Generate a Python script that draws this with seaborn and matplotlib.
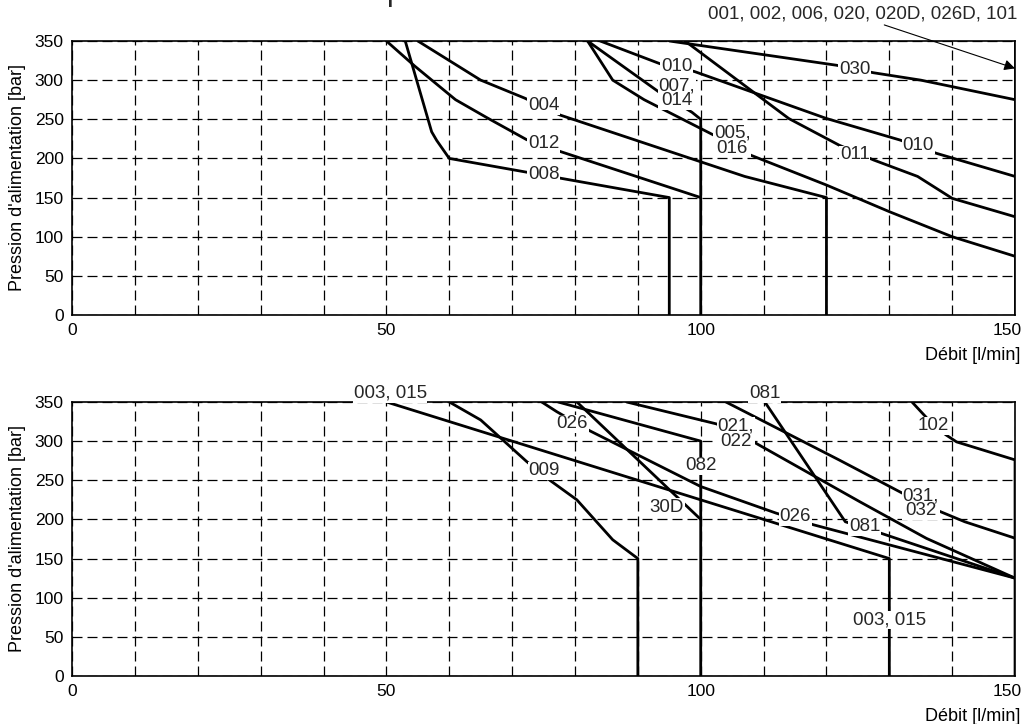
import matplotlib
matplotlib.use("Agg")
import matplotlib.pyplot as plt
import matplotlib.transforms as mtransforms
import seaborn as sns
import pandas as pd

# Débit [l/min] / pression [bar] relevés sur les courbes
# --- graphique du haut ---
q_008 = [53, 57.2, 58, 60, 95, 95]
p_008 = [350, 234, 223, 200, 150, 0]
q_012 = [50, 54.5, 61, 66, 72.3, 77.6, 100]
p_012 = [350, 318, 275, 252, 224, 209, 150]
q_004 = [55, 65, 72, 77.6, 107, 120, 120]
p_004 = [350, 300, 277, 255.5, 177, 150, 0]
q_007 = [82, 93.5, 98.6, 100, 100]
p_007 = [350, 284, 259, 250, 0]
q_005 = [82, 86, 91, 102.5, 108, 120, 130, 140, 150]
p_005 = [350, 300, 275, 228, 204, 166, 132, 100, 75]
q_010 = [84, 93.5, 99, 120, 131.7, 137.5, 150]
p_010 = [350, 321, 311, 251, 223.5, 206.5, 177]
q_011 = [97.5, 114, 122, 127.5, 134.5, 140, 150]
p_011 = [350, 251, 217, 198, 177, 149, 125.5]
q_030 = [95, 121.6, 127.5, 135, 150]
p_030 = [350, 319, 309.4, 300, 275]
q_001 = [150, 150]
p_001 = [350, 0]

# --- graphique du bas ---
q_003 = [50, 130, 130]
p_003 = [350, 150, 0]
q_009 = [60, 65, 72.3, 76, 80.3, 86, 90, 90]
p_009 = [350, 327, 274, 250, 225, 174, 150, 0]
q_026 = [74.7, 77.1, 82.4, 100, 112, 118, 150]
p_026 = [350, 337.6, 313, 242, 208, 193, 125]
q_082 = [77.3, 100, 100]
p_082 = [350, 300, 0]
q_30D = [80.3, 100]
p_30D = [350, 200]
q_021 = [88.2, 102.5, 108.4, 125.3, 135.9, 150]
p_021 = [350, 322, 299, 222.6, 175.8, 125]
q_081 = [110.2, 123, 128.8, 150]
p_081 = [350, 197, 182, 125]
q_031 = [104, 122, 132.2, 137.5, 142, 150]
p_031 = [350, 276, 233, 212, 197, 176]
q_102 = [133.6, 137, 139, 140.7, 150, 150]
p_102 = [350, 320.6, 308, 299, 276, 0]

courbes_haut = {
    "008": (q_008, p_008), "012": (q_012, p_012), "004": (q_004, p_004),
    "007": (q_007, p_007), "005": (q_005, p_005), "010": (q_010, p_010),
    "011": (q_011, p_011), "030": (q_030, p_030), "001": (q_001, p_001),
}
courbes_bas = {
    "003": (q_003, p_003), "009": (q_009, p_009), "026": (q_026, p_026),
    "082": (q_082, p_082), "30D": (q_30D, p_30D), "021": (q_021, p_021),
    "081": (q_081, p_081), "031": (q_031, p_031), "102": (q_102, p_102),
}

x_ticks = [0, 50, 100, 150]
y_ticks = [0, 50, 100, 150, 200, 250, 300, 350]


def to_frame(courbes):
    rows = []
    for nom, (q, p) in courbes.items():
        for i, (x, y) in enumerate(zip(q, p)):
            rows.append({"courbe": nom, "ordre": i, "debit": x, "pression": y})
    return pd.DataFrame(rows)


sns.set_theme(style="white")
plt.rcParams["font.family"] = ["Liberation Sans", "DejaVu Sans"]

fig = plt.figure(figsize=(10.22, 7.24), dpi=100)
ax1 = fig.add_axes([0.0705, 0.5649, 0.9227, 0.3785])
ax2 = fig.add_axes([0.0705, 0.0663, 0.9227, 0.3785])

grid_style = dict(color="black", linewidth=0.9, linestyle=(0, (8, 4)))
box = dict(facecolor="white", edgecolor="none", pad=0.6)


def mise_en_forme(ax):
    ax.set_xlim(0, 150)
    ax.set_ylim(0, 350)
    ax.set_xticks(x_ticks)
    ax.set_xticks(range(0, 151, 10), minor=True)
    ax.set_yticks(y_ticks)
    ax.grid(True, which="both", **grid_style)
    ax.set_axisbelow(True)
    ax.tick_params(which="both", length=0, labelsize=12.5, colors="black")
    ax.tick_params(axis="x", pad=6)
    ax.tick_params(axis="y", pad=6)
    # le "150" reste à l'intérieur de la figure
    last = ax.get_xticklabels()[-1]
    last.set_horizontalalignment("right")
    last.set_transform(last.get_transform() +
                       mtransforms.ScaledTranslation(5 / 72, 0, fig.dpi_scale_trans))
    for s in ax.spines.values():
        s.set_visible(True)
        s.set_color("black")
        s.set_linewidth(1.2)
    ax.set_ylabel("Pression d'alimentation [bar]", fontsize=13, color="black",
                  va="center")
    ax.yaxis.set_label_coords(-0.058, 0.5)
    ax.set_xlabel("Débit [l/min]", fontsize=13, color="black", ha="right", va="center")
    ax.xaxis.set_label_coords(1.0055, -0.146)


def etiquette(ax, x, y, s):
    ax.text(x, y, s, ha="center", va="center", fontsize=13.5, linespacing=0.82,
            bbox=box, zorder=5, clip_on=False)


for ax, courbes in [(ax1, courbes_haut), (ax2, courbes_bas)]:
    df = to_frame(courbes)
    sns.lineplot(data=df, x="debit", y="pression", units="courbe", estimator=None,
                 sort=False, color="black", linewidth=2.0, ax=ax, legend=False,
                 zorder=3)
    mise_en_forme(ax)

# étiquettes graphique du haut
for x, y, s in [(75, 180, "008"), (75, 219, "012"), (75, 267, "004"),
                (96.2, 318, "010"), (96.2, 283, "007,\n014"),
                (105, 222.5, "005,\n016"), (124.5, 204.5, "011"),
                (134.6, 217, "010"), (124.5, 314, "030")]:
    etiquette(ax1, x, y, s)

ax1.text(150.4, 384, "001, 002, 006, 020, 020D, 026D, 101", ha="right",
         va="center", fontsize=13.5, clip_on=False)
ax1.annotate("", xy=(150, 315), xytext=(129.2, 370.5), annotation_clip=False,
             arrowprops=dict(arrowstyle="-|>", color="black", lw=0.8,
                             shrinkA=0, shrinkB=0, mutation_scale=16))

# étiquettes graphique du bas
for x, y, s in [(50.6, 361, "003, 015"), (79.6, 322, "026"), (75.1, 262, "009"),
                (100, 268.5, "082"), (94.6, 215.5, "30D"), (110.2, 361, "081"),
                (105.6, 309.5, "021,\n022"), (137, 319.5, "102"),
                (135, 221, "031,\n032"), (115, 203.5, "026"),
                (126.1, 190.7, "081"), (130.1, 71.5, "003, 015")]:
    etiquette(ax2, x, y, s)

# titre coupé en haut de l'image
fig.text(386 / 1022, 1.0, "p", fontsize=22, va="baseline", ha="left")

fig.savefig("out.png", dpi=100)
